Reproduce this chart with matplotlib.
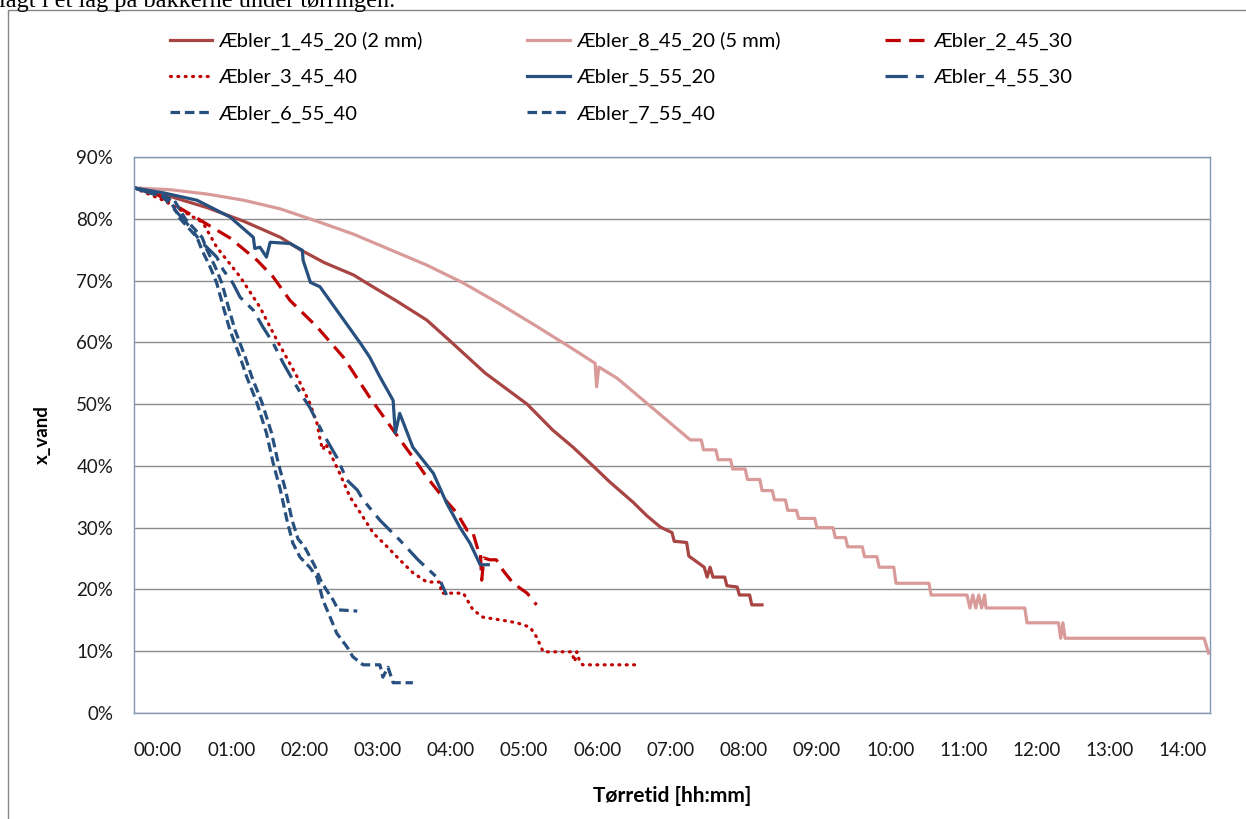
import matplotlib.pyplot as plt
from matplotlib.patches import Rectangle
from matplotlib.ticker import PercentFormatter

# tørretid i timer, x_vand i %
t_1 = [0, 0.5, 1.0, 1.5, 2.0, 2.27, 2.6, 3.0, 3.22, 3.6, 4.0, 4.32, 4.8, 5.37, 5.72, 6.0, 6.27,
       6.5, 6.82, 7.0, 7.19, 7.35, 7.38, 7.55, 7.58, 7.79, 7.83, 7.87, 7.91, 8.07, 8.1,
       8.24, 8.27, 8.41, 8.44, 8.58]
x_1 = [85, 83.6, 81.8, 79.6, 77.0, 75.0, 72.9, 70.9, 69.3, 66.6, 63.6, 60.2, 55.0, 50.0, 45.8, 43.0, 40.0,
       37.4, 34.1, 32.0, 30.1, 29.2, 27.8, 27.6, 25.4, 23.6, 22.0, 23.6, 22.0, 22.0, 20.6,
       20.4, 19.1, 19.1, 17.5, 17.5]

t_8 = [0, 0.5, 1.0, 1.5, 2.0, 2.5, 3.0, 3.5, 4.0, 4.5, 5.0, 5.5, 6.0, 6.3, 6.32, 6.35,
       6.6, 7.0, 7.3, 7.6, 7.75, 7.78, 7.95, 7.98, 8.15, 8.18, 8.35, 8.38, 8.55, 8.58,
       8.72, 8.75, 8.9, 8.93, 9.05, 9.08, 9.3, 9.33, 9.55, 9.58, 9.72, 9.75, 9.95, 9.98,
       10.15, 10.18, 10.38, 10.41, 10.86, 10.89, 11.38, 11.42, 11.46, 11.5, 11.54, 11.58,
       11.62, 11.64, 12.17, 12.2, 12.63, 12.66, 12.69, 12.72, 14.62, 14.68]
x_8 = [85, 84.7, 84.0, 83.0, 81.6, 79.6, 77.5, 75.0, 72.5, 69.6, 66.2, 62.6, 58.9, 56.6, 52.8, 56.0,
       54.2, 50.2, 47.2, 44.2, 44.2, 42.6, 42.6, 41.0, 41.0, 39.5, 39.5, 37.8, 37.8, 36.0,
       36.0, 34.5, 34.5, 32.8, 32.8, 31.5, 31.5, 30.0, 30.0, 28.4, 28.4, 26.9, 26.9, 25.3,
       25.3, 23.6, 23.6, 21.0, 21.0, 19.1, 19.1, 17.0, 19.1, 17.0, 19.1, 17.0,
       19.1, 17.0, 17.0, 14.6, 14.6, 12.1, 14.6, 12.1, 12.1, 9.7]

t_2 = [0, 0.29, 0.86, 1.31, 1.68, 1.9, 2.13, 2.5, 2.86, 3.22, 3.54, 3.81, 4.0, 4.2, 4.41,
       4.55, 4.62, 4.66, 4.7, 4.73, 4.75, 4.78, 4.86, 4.95, 5.04, 5.18, 5.37, 5.5]
x_2 = [85, 84.1, 80.1, 76.9, 73.3, 70.6, 66.8, 62.5, 57.6, 51.1, 45.8, 41.4, 38.2, 35.2, 32.4,
       29.6, 29.6, 28.0, 26.4, 26.4, 21.5, 25.1, 24.8, 24.8, 23.1, 21.0, 19.4, 17.5]

t_3 = [0, 0.4, 0.94, 1.13, 1.45, 1.72, 1.95, 2.23, 2.4, 2.5, 2.55, 2.58, 2.62, 2.81, 2.95,
       3.13, 3.27, 3.46, 3.63, 3.81, 4.0, 4.18, 4.2, 4.5, 4.63, 4.77, 5.04, 5.23, 5.41,
       5.5, 5.59, 5.98, 6.02, 6.05, 6.09, 6.13, 6.87]
x_3 = [85, 83.0, 79.4, 75.4, 70.6, 65.7, 60.4, 54.4, 50.2, 46.9, 43.8, 42.6, 43.6, 38.8, 35.0,
       31.7, 29.1, 26.9, 24.8, 22.7, 21.2, 21.2, 19.4, 19.4, 16.7, 15.5, 15.0, 14.6, 13.9,
       12.3, 9.9, 9.9, 8.3, 9.9, 8.3, 7.8, 7.8]

t_5 = [0, 0.4, 0.86, 1.31, 1.63, 1.65, 1.72, 1.81, 1.86, 2.13, 2.3, 2.31, 2.41, 2.54, 2.77,
       3.09, 3.22, 3.36, 3.54, 3.57, 3.63, 3.81, 3.95, 4.09, 4.27, 4.45, 4.59, 4.73, 4.84]
x_5 = [85, 84.2, 83.0, 80.3, 77.0, 75.2, 75.4, 73.8, 76.2, 76.0, 74.9, 73.3, 69.7, 69.0, 65.2,
       59.9, 57.6, 54.4, 50.6, 45.3, 48.5, 43.0, 40.9, 38.8, 34.0, 30.1, 27.5, 24.0, 24.0]

t_4 = [0, 0.4, 0.72, 0.9, 1.13, 1.22, 1.35, 1.45, 1.63, 1.76, 1.9, 2.04, 2.17, 2.31, 2.4,
       2.58, 2.77, 2.91, 3.05, 3.13, 3.36, 3.63, 3.88, 4.18, 4.27]
x_4 = [85, 83.5, 79.3, 76.5, 73.8, 71.7, 69.6, 67.3, 65.2, 62.5, 59.9, 56.6, 53.9, 51.1, 49.5,
       45.3, 41.4, 37.7, 36.1, 34.5, 31.2, 28.0, 24.8, 21.5, 19.1]

t_6 = [0, 0.3, 0.49, 0.63, 0.86, 0.93, 1.04, 1.13, 1.22, 1.31, 1.45, 1.54, 1.68, 1.81, 1.9,
       2.0, 2.09, 2.17, 2.27, 2.4, 2.5, 2.58, 2.68, 2.77, 2.91, 2.99, 3.13, 3.36, 3.4,
       3.47, 3.54, 3.81]
x_6 = [85, 84.0, 83.0, 80.0, 77.0, 74.9, 72.2, 69.6, 65.7, 62.0, 57.6, 54.4, 50.2, 45.3, 40.5,
       36.1, 31.2, 27.5, 25.2, 23.6, 22.0, 18.3, 15.5, 12.9, 10.7, 9.1, 7.8, 7.8, 5.8,
       7.4, 4.9, 4.9]

t_7 = [0, 0.3, 0.55, 0.7, 0.93, 1.0, 1.11, 1.2, 1.29, 1.38, 1.52, 1.61, 1.75, 1.88, 1.97,
       2.07, 2.16, 2.24, 2.33, 2.47, 2.55, 2.63, 2.72, 2.79, 3.05]
x_7 = [85, 84.2, 83.0, 80.0, 77.0, 74.9, 72.2, 69.6, 65.7, 62.0, 57.6, 54.4, 50.2, 45.3, 40.5,
       36.1, 31.2, 28.2, 26.9, 23.8, 21.5, 19.9, 18.3, 16.7, 16.5]

navne = ['Æbler_1_45_20 (2 mm)', 'Æbler_8_45_20 (5 mm)', 'Æbler_2_45_30', 'Æbler_3_45_40',
         'Æbler_5_55_20', 'Æbler_4_55_30', 'Æbler_6_55_40', 'Æbler_7_55_40']
timer = ['00:00', '01:00', '02:00', '03:00', '04:00', '05:00', '06:00', '07:00',
         '08:00', '09:00', '10:00', '11:00', '12:00', '13:00', '14:00']

plt.rcParams['font.family'] = ['Lato', 'DejaVu Sans']

fig = plt.figure(figsize=(12.46, 8.19), dpi=100)

# overskrift der er skaaret af + rammen om diagrammet
fig.text(-0.001, 1 - 7 / 819, 'lagt i et lag på bakkerne under tørringen.', fontsize=17.5,
         family='Liberation Serif', va='baseline', ha='left')
fig.patches.append(Rectangle((8 / 1246, -0.01), 1.0, 1 - 10 / 819 + 0.01, transform=fig.transFigure,
                             fill=False, edgecolor='#868686', lw=1))

ax = fig.add_axes([134 / 1246, 1 - 713 / 819, (1210 - 134) / 1246, (713 - 157) / 819])

rod = '#A84442'
lyserod = '#D99B9A'
rod2 = '#C00000'
blaa = '#27507F'
lw = 2.3

h1, = ax.plot(t_1, x_1, color=rod, lw=lw, label=navne[0])
h8, = ax.plot(t_8, x_8, color=lyserod, lw=lw, label=navne[1])
h2, = ax.plot(t_2, x_2, color=rod2, lw=lw, ls=(0, (4.8, 2.6)), label=navne[2])
h3, = ax.plot(t_3, x_3, color=rod2, lw=lw, ls=(0, (0.3, 2.0)), dash_capstyle='round',
              label=navne[3])
h5, = ax.plot(t_5, x_5, color=blaa, lw=lw, label=navne[4])
h4, = ax.plot(t_4, x_4, color=blaa, lw=lw, ls=(0, (7, 2.5, 2.5, 2.5)), label=navne[5])
h6, = ax.plot(t_6, x_6, color=blaa, lw=lw, ls=(0, (3, 1.5)), label=navne[6])
h7, = ax.plot(t_7, x_7, color=blaa, lw=lw, ls=(0, (3, 1.5)), label=navne[7])

ax.set_xlim(0, 14.7)
ax.set_ylim(0, 90)
ax.set_yticks(range(0, 91, 10))
ax.yaxis.set_major_formatter(PercentFormatter(100, decimals=0))
ax.set_xticks(range(15))
ax.set_xticklabels(timer)
for lab in ax.get_xticklabels():
    lab.set_ha('left')

ax.yaxis.grid(True, color='#8c8c8c', lw=1)
ax.set_axisbelow(True)
for s in ax.spines.values():
    s.set_color('#8497b0')
    s.set_linewidth(1)
ax.tick_params(axis='both', length=0, labelsize=13.5, colors='#1a1a1a')
ax.tick_params(axis='x', pad=21)
ax.tick_params(axis='y', pad=15)

ax.set_xlabel('Tørretid [hh:mm]', fontsize=15, fontweight='bold', labelpad=19)
ax.set_ylabel('x_vand', fontsize=13.5, fontweight='bold', labelpad=18)

fig.legend(handles=[h1, h3, h6, h8, h5, h7, h2, h4], ncol=3, loc='upper left',
           bbox_to_anchor=(170 / 1246, 1 - 32 / 819), frameon=False, fontsize=14.5,
           handlelength=2.1, handletextpad=0.3, columnspacing=5.2, labelspacing=0.93,
           borderpad=0, borderaxespad=0)

fig.savefig('out.png', dpi=100)
